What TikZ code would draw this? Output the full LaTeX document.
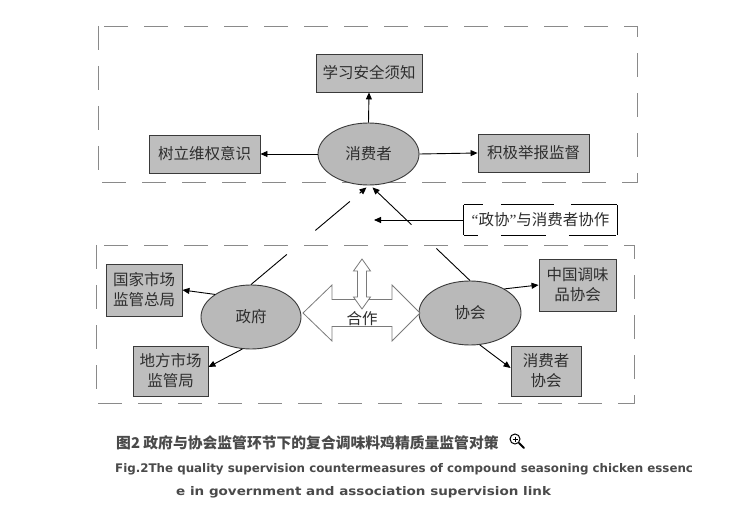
\documentclass[tikz,border=0pt]{standalone}
\usepackage{fontspec}
\newfontfamily\cjk{Noto Sans CJK SC}
\newfontfamily\capfont{DejaVu Sans}
\newfontfamily\qfont{Liberation Serif}
\usetikzlibrary{arrows.meta,calc,shapes.geometric}
\definecolor{boxfill}{HTML}{BEBEBE}
\definecolor{ellfill}{HTML}{B9B9B9}
\definecolor{bordc}{HTML}{3A3A3A}
\definecolor{txtc}{HTML}{2E2E2E}
\definecolor{dashc}{HTML}{8A8A8A}
\definecolor{capc}{HTML}{4A4A4A}
\definecolor{hollowc}{HTML}{7A7A7A}
\tikzset{
  cjkfont/.style={font=\cjk\fontsize{15.5}{20}\selectfont},
  rbox/.style={draw=bordc, fill=boxfill, line width=0.9pt, inner sep=0pt, cjkfont, text=txtc, align=center},
  ell/.style={ellipse, draw=bordc, fill=ellfill, line width=0.9pt, inner sep=0pt, cjkfont, text=txtc},
  arr/.style={-{Triangle[length=7pt,width=6pt]}, line width=0.9pt, black},
  plainline/.style={line width=0.9pt, black},
  dbox/.style={draw=dashc, line width=0.9pt, dash pattern=on 24pt off 16pt},
  hollow/.style={draw=hollowc, fill=white, line width=0.8pt, line join=miter},
  lablinest/.style={line width=1.2pt, black},
  capen/.style={font=\capfont\bfseries\fontsize{11.85}{14}\selectfont, text=capc, anchor=west, inner sep=0pt}
}
\begin{document}
\begin{tikzpicture}[x=1pt,y=-1pt]
\useasboundingbox[fill=white] (0,0) rectangle (732,516);
% dashed regions
\draw[dbox] (98,26) rectangle (637,182);
\draw[dbox] (96,245) rectangle (634,403);
% top group
\node[rbox, minimum width=106pt, minimum height=38pt] (learn) at (369,73) {学习安全须知};
\node[ell, minimum width=101pt, minimum height=62pt] (con) at (368.5,154) {消费者};
\node[rbox, minimum width=111pt, minimum height=38pt] (rights) at (204.5,154) {树立维权意识};
\node[rbox, minimum width=111pt, minimum height=38pt] (report) at (533.5,153) {积极举报监督};
\draw[arr] (con.north) -- (learn.south);
\draw[arr] (con.west) -- (rights.east);
\draw[arr] (con.east) -- (report.west);
% bottom group
\node[ell, minimum width=100pt, minimum height=64pt] (gov) at (251,317) {政府};
\node[ell, minimum width=102pt, minimum height=64pt] (assoc) at (470,313) {协会};
\node[rbox, minimum width=76pt, minimum height=52pt] (nat) at (144,290) {国家市场\\监管总局};
\node[rbox, minimum width=75pt, minimum height=50pt] (loc) at (170.5,371) {地方市场\\监管局};
\node[rbox, minimum width=77pt, minimum height=52pt] (cs) at (577.5,285) {中国调味\\品协会};
\node[rbox, minimum width=70pt, minimum height=50pt] (ca) at (546,371) {消费者\\协会};
\draw[arr] (gov.148) -- (nat.east);
\draw[arr] (gov.255) -- ($(loc.east)+(0,-4)$);
\draw[arr] (assoc.35) -- (cs.west);
\draw[arr] (assoc.-73) -- ($(ca.west)+(0,-3)$);
% lines to consumer with gaps
\coordinate (ctipL) at ($(con.south)+(-2,2)$);
\coordinate (ctipR) at ($(con.south)+(4,2)$);
\draw[plainline] (gov.north) -- ($(gov.north)!0.31!(ctipL)$);
\draw[plainline] ($(gov.north)!0.557!(ctipL)$) -- ($(gov.north)!0.856!(ctipL)$);
\draw[arr] ($(gov.north)!0.94!(ctipL)$) -- (ctipL);
\draw[plainline] (assoc.north) -- ($(assoc.north)!0.344!(ctipR)$);
\draw[arr] ($(assoc.north)!0.60!(ctipR)$) -- (ctipR);
% label box
\node[cjkfont, text=txtc, minimum width=153pt, minimum height=30pt, inner sep=0pt] (lab) at (540.5,220) {{\qfont “}政协{\qfont ”}与消费者协作};
\draw[lablinest] (lab.north west) -- (lab.south west);
\draw[lablinest] (lab.north east) -- (lab.south east);
\draw[lablinest, dash pattern=on 19pt off 18pt on 53pt off 17pt on 46pt] (lab.north west) -- (lab.north east);
\draw[lablinest, dash pattern=on 14pt off 23pt on 45pt off 23pt on 47pt] (lab.south west) -- (lab.south east);
\coordinate (labtip) at (374,220);
\draw[arr] (lab.west) -- (labtip);
% cooperation arrows
\draw[hollow] (303,313) -- (332,285) -- (332,299.5) -- (392,299.5) -- (392,285) -- (420,313) -- (392,341) -- (392,326.5) -- (332,326.5) -- (332,341) -- cycle;
\draw[hollow] (362,259) -- (370.5,271) -- (366.5,271) -- (366.5,297) -- (370.5,297) -- (362,309) -- (353.5,297) -- (357.5,297) -- (357.5,271) -- (353.5,271) -- cycle;
\node[cjkfont, text=txtc, inner sep=0pt] (coop) at (362,319) {合作};
% caption
\node[font=\cjk\bfseries\fontsize{14.8}{16}\selectfont, text=capc, anchor=west, inner sep=0pt] (cap1) at (116,443) {图2 政府与协会监管环节下的复合调味料鸡精质量监管对策};
\draw[line width=1pt, black] (515,439) circle (5);
\draw[line width=0.8pt, black] (512.5,439) -- (517.5,439) (515,436.5) -- (515,441.5);
\draw[line width=2pt, black, line cap=round] (519,443) -- (524,448);
\node[capen] (cap2) at (115,469) {Fig.2The quality supervision countermeasures of compound seasoning chicken essenc};
\node[capen] (cap3) at (176,492) {\scalebox{1.14}[1]{e in government and association supervision link}};
\end{tikzpicture}
\end{document}
